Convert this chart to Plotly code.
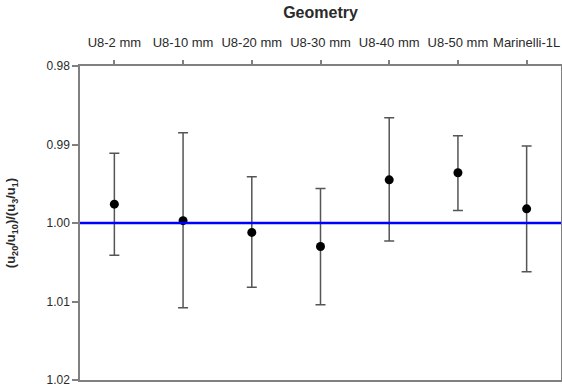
import plotly.graph_objects as go

categories = ["U8-2 mm", "U8-10 mm", "U8-20 mm", "U8-30 mm", "U8-40 mm", "U8-50 mm", "Marinelli-1L"]
ratio_values = [0.9976, 0.9997, 1.0012, 1.0030, 0.9945, 0.9936, 0.9982]
error_plus = [0.0065, 0.0111, 0.0070, 0.0074, 0.0078, 0.0048, 0.0080]
error_minus = [0.0065, 0.0112, 0.0071, 0.0074, 0.0079, 0.0047, 0.0080]
reference_value = 1.00
y_ticks = [0.98, 0.99, 1.00, 1.01, 1.02]

FONT = "Liberation Sans, Arial, sans-serif"

fig = go.Figure()
fig.add_trace(go.Scatter(
    x=categories, y=ratio_values, mode="markers",
    marker=dict(color="black", size=9),
    error_y=dict(type="data", symmetric=False, array=error_plus, arrayminus=error_minus,
                 color="#555555", thickness=1.5, width=5),
    showlegend=False,
))
fig.add_shape(type="line", xref="paper", x0=0, x1=1, yref="y", y0=reference_value, y1=reference_value,
              line=dict(color="#0000ff", width=2.5), layer="above")

eps = 1e-7
fig.update_layout(
    width=562, height=387,
    margin=dict(l=80, r=1, t=66, b=7, autoexpand=False),
    paper_bgcolor="white", plot_bgcolor="white",
    font=dict(family=FONT, color="#333333"),
    xaxis=dict(
        type="category", side="top", range=[-0.5, 6.5],
        showline=True, linecolor="#808080", linewidth=1.5, mirror=True,
        ticks="outside", ticklen=4, tickcolor="#808080", tickwidth=1.5,
        showgrid=False, zeroline=False, automargin=False, tickangle=0,
        ticklabelstandoff=8,
        tickfont=dict(size=13, color="#2a2a2a"),
        title=dict(text="<b>Geometry</b>", font=dict(size=16, color="#2a2a2a"), standoff=12),
    ),
    yaxis=dict(
        range=[1.02 + eps, 0.98 - eps], tickvals=y_ticks, tickformat=".2f",
        showline=True, linecolor="#808080", linewidth=1.5, mirror=True,
        ticks="outside", ticklen=6, tickcolor="#808080", tickwidth=1.5,
        showgrid=False, zeroline=False, automargin=False,
        ticklabeloverflow="allow",
        tickfont=dict(size=12, color="#2a2a2a"),
        title=dict(text="<b>(u<sub>20</sub>/u<sub>10</sub>)/(u<sub>3</sub>/u<sub>1</sub>)</b>",
                   font=dict(size=13, color="#2a2a2a"), standoff=28),
    ),
)

fig.write_html("out.html", config={"displayModeBar": False},
               post_script="document.body.style.margin='0';")
